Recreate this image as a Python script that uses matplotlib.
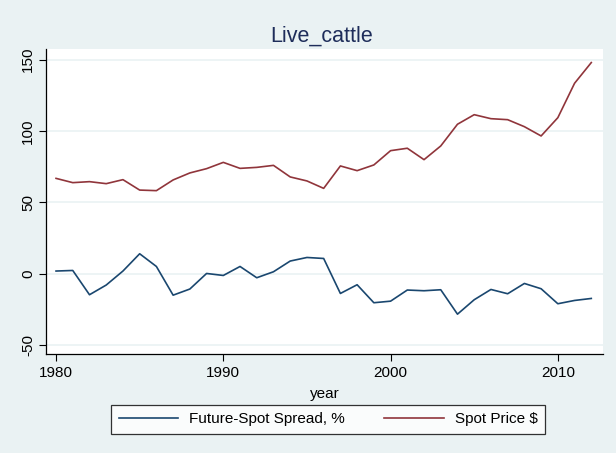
import matplotlib
matplotlib.use("Agg")
import matplotlib.pyplot as plt

years = list(range(1980, 2013))
spread = [1.9, 2.3, -14.7, -7.9, 1.9, 14.0, 5.1, -15.0, -10.7, 0.2,
          -1.2, 5.1, -2.8, 1.4, 8.9, 11.4, 10.7, -13.8, -7.7, -20.3,
          -19.2, -11.4, -11.9, -11.2, -28.3, -18.2, -11.0, -14.0, -6.8, -10.5,
          -21.0, -18.7, -17.3]
spot = [66.8, 63.8, 64.5, 63.1, 65.9, 58.6, 58.2, 65.7, 70.6, 73.6,
        78.0, 73.8, 74.5, 75.9, 67.8, 65.0, 59.8, 75.5, 72.2, 76.2,
        86.2, 87.9, 79.9, 89.5, 104.7, 111.4, 108.6, 107.9, 103.0, 96.5,
        109.3, 133.4, 147.9]
yticks = [-50, 0, 50, 100, 150]
xticks = [1980, 1990, 2000, 2010]

plt.rcParams['font.family'] = ['Liberation Sans', 'DejaVu Sans']
bg = '#eaf2f3'
navy = '#1a476f'
maroon = '#90353b'

fig = plt.figure(figsize=(6.16, 4.53), dpi=100, facecolor=bg)
ax = fig.add_axes([46/616, 1-354/453, (603-46)/616, (354-49)/453])
ax.set_facecolor('white')

ax.plot(years, spread, color=navy, lw=1.2, label='Future-Spot Spread, %')
ax.plot(years, spot, color=maroon, lw=1.2, label='Spot Price $')

ax.set_xlim(1979.4, 2012.7)
ax.set_ylim(-56.2, 157.4)
ax.set_yticks(yticks)
ax.set_xticks(xticks)
ax.set_yticklabels([str(t) for t in yticks], rotation=90, va='center')
ax.tick_params(axis='both', labelsize=11, length=5, width=0.8, color='black')
ax.tick_params(axis='y', pad=3)
ax.yaxis.grid(True, color=bg, lw=1.2)
ax.set_axisbelow(True)
for s in ['top', 'right']:
    ax.spines[s].set_visible(False)
for s in ['left', 'bottom']:
    ax.spines[s].set_color('black')
    ax.spines[s].set_linewidth(0.9)

ax.set_xlabel('year', fontsize=11, labelpad=5)
fig.text(322/616, 1-36/453, 'Live_cattle', ha='center', va='center',
         fontsize=15.5, color='#1e2d5a')

leg = fig.legend(loc='center', bbox_to_anchor=(328/616, 1-419.5/453), ncol=2,
                 fontsize=11, frameon=True, fancybox=False, handlelength=3.9,
                 columnspacing=2.6, handletextpad=0.7, borderpad=0.5)
leg.get_frame().set_edgecolor('black')
leg.get_frame().set_linewidth(0.9)
leg.get_frame().set_facecolor('white')

fig.savefig('out.png', dpi=100, facecolor=bg)
